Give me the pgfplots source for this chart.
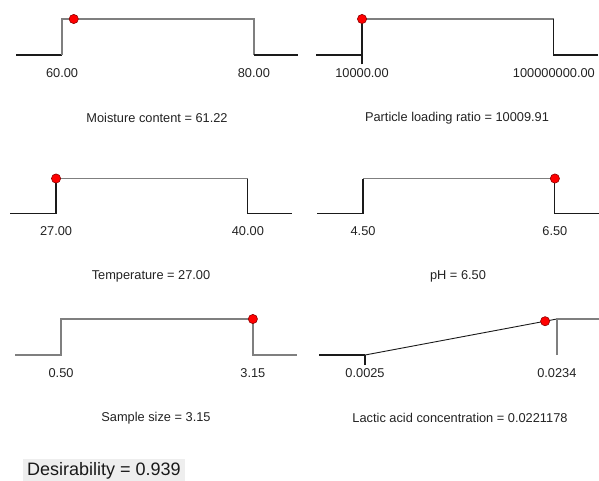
\documentclass[border=0pt]{standalone}
\usepackage{fontspec}
\setmainfont{Liberation Sans}
\usepackage{pgfplots}
\pgfplotsset{compat=1.18}
\definecolor{ln}{HTML}{1A1A1A}
\definecolor{tp}{HTML}{7F7F7F}
\definecolor{tx}{HTML}{222222}
\pgfplotsset{
  panel/.style={scale only axis, width=282pt, height=36pt, ymin=0, ymax=1,
    hide axis, clip=false, anchor=south west},
  segA/.style={ln, line width=1.2pt, no marks},
  segB/.style={tp, line width=1.3pt, no marks},
  dot/.style={only marks, mark=*, mark size=4.6pt, mark options={fill=red, draw=red!55!black, line width=0.6pt}},
}
\tikzset{
  tlab/.style={font=\fontsize{12.8}{15}\selectfont, text=tx, yshift=-18pt},
  ttl/.style={font=\fontsize{12.8}{15}\selectfont, text=tx, yshift=-63pt},
}
\begin{document}
\begin{tikzpicture}
\useasboundingbox (0pt,0pt) rectangle (599pt,-480pt);

% Moisture content
\begin{axis}[panel, at={(16pt,-55pt)}, xmin=55.2, xmax=84.6]
\addplot[segA] coordinates {(55.2,0) (60,0)};
\addplot[segB] coordinates {(60,0) (60,1) (80,1) (80,0)};
\addplot[segA] coordinates {(80,0) (84.6,0)};
\addplot[dot] coordinates {(61.22,1)};
\node[tlab] at (axis cs:60,0) {60.00};
\node[tlab] at (axis cs:80,0) {80.00};
\node[ttl] at (rel axis cs:0.5,0) {Moisture content = 61.22};
\end{axis}

% Particle loading ratio
\begin{axis}[panel, at={(316pt,-55pt)}, xmin=-23987600, xmax=122997700]
\addplot[segA] coordinates {(-23987600,0) (10000,0)};
\addplot[segA] coordinates {(10000,-0.26) (10000,1)};
\addplot[segB] coordinates {(10000,1) (100000000,1)};
\addplot[segA] coordinates {(100000000,1) (100000000,0) (122997700,0)};
\addplot[dot] coordinates {(10009.91,1)};
\node[tlab] at (axis cs:10000,0) {10000.00};
\node[tlab] at (axis cs:100000000,0) {100000000.00};
\node[ttl] at (rel axis cs:0.5,0) {Particle loading ratio = 10009.91};
\end{axis}

% Temperature
\begin{axis}[panel, at={(10pt,-213.5pt)}, height=35pt, xmin=23.88, xmax=42.99]
\addplot[segA] coordinates {(23.88,0) (27,0) (27,1)};
\addplot[segB] coordinates {(27,1) (40,1)};
\addplot[segA] coordinates {(40,1) (40,0) (42.99,0)};
\addplot[dot] coordinates {(27,1)};
\node[tlab] at (axis cs:27,0) {27.00};
\node[tlab] at (axis cs:40,0) {40.00};
\node[ttl] at (rel axis cs:0.5,0) {Temperature = 27.00};
\end{axis}

% pH
\begin{axis}[panel, at={(317pt,-213.5pt)}, height=35pt, xmin=4.02, xmax=6.96]
\addplot[segA] coordinates {(4.02,0) (4.5,0) (4.5,1)};
\addplot[segB] coordinates {(4.5,1) (6.5,1)};
\addplot[segA] coordinates {(6.5,1) (6.5,0) (6.96,0)};
\addplot[dot] coordinates {(6.5,1)};
\node[tlab] at (axis cs:4.5,0) {4.50};
\node[tlab] at (axis cs:6.5,0) {6.50};
\node[ttl] at (rel axis cs:0.5,0) {pH = 6.50};
\end{axis}

% Sample size
\begin{axis}[panel, at={(15pt,-355pt)}, xmin=-0.136, xmax=3.7595]
\addplot[segB] coordinates {(-0.136,0) (0.5,0) (0.5,1) (3.15,1) (3.15,0) (3.7595,0)};
\addplot[dot] coordinates {(3.15,1)};
\node[tlab] at (axis cs:0.5,0) {0.50};
\node[tlab] at (axis cs:3.15,0) {3.15};
\node[ttl] at (rel axis cs:0.5,0) {Sample size = 3.15};
\end{axis}

% Lactic acid concentration
\begin{axis}[panel, at={(319pt,-355pt)}, xmin=-0.002516, xmax=0.028207]
\addplot[segA] coordinates {(-0.002516,0) (0.0025,0)};
\addplot[segA] coordinates {(0.0025,-0.28) (0.0025,0)};
\addplot[segA, line width=0.9pt] coordinates {(0.0025,0) (0.0234,1)};
\addplot[segB] coordinates {(0.0234,0) (0.0234,1) (0.028207,1)};
\addplot[dot] coordinates {(0.0221178,0.9386)};
\node[tlab] at (axis cs:0.0025,0) {0.0025};
\node[tlab] at (axis cs:0.0234,0) {0.0234};
\node[ttl] at (rel axis cs:0.5,0) {Lactic acid concentration = 0.0221178};
\end{axis}

\fill[gray!13] (23pt,-459pt) rectangle (185pt,-482pt);
\node[anchor=base west, inner sep=0pt, font=\fontsize{18}{20}\selectfont, text=black!90] at (27pt,-475.5pt) {Desirability = 0.939};
\end{tikzpicture}
\end{document}
